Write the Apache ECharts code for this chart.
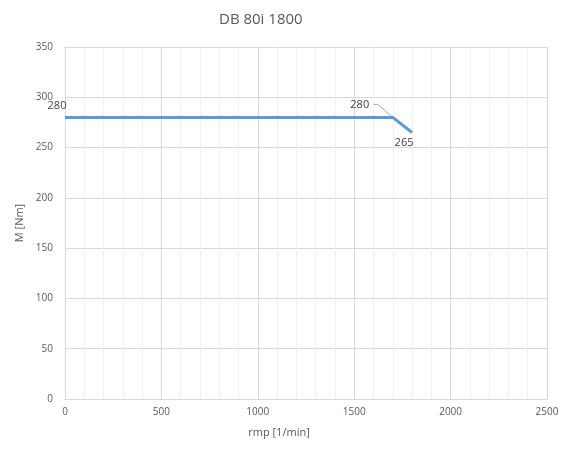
<!DOCTYPE html>
<html><head><meta charset="utf-8">
<script src="https://cdn.jsdelivr.net/npm/echarts@6/dist/echarts.min.js"></script>
<style>html,body{margin:0;padding:0;background:#fff}#c{width:572px;height:455px}</style>
</head><body><div id="c"></div>
<script>
const titleText = "DB 80i 1800";
const xName = "rmp [1/min]";
const yName = "M [Nm]";
const rpm = [0, 1700, 1800];
const torque = [280, 280, 265];

const chart = echarts.init(document.getElementById('c'), null, {renderer: 'canvas'});
const font = "Open Sans, Liberation Sans, sans-serif";
const labelMoves = [[-8, -12], [-33, -13], [-8, 10]];
chart.setOption({
  animation: false,
  title: {text: titleText, left: 214, top: 7,
    textStyle: {fontFamily: font, fontSize: 15, fontWeight: 'normal', color: '#595959'}},
  grid: {left: 65, right: 25, top: 47, bottom: 56},
  xAxis: {
    type: 'value', min: 0, max: 2500, interval: 500,
    name: xName, nameLocation: 'middle', nameGap: 28,
    nameTextStyle: {fontFamily: font, fontSize: 11, color: '#595959', padding: [0, 54, 0, 0]},
    axisLine: {show: true, lineStyle: {color: '#d9d9d9'}},
    axisTick: {show: false},
    axisLabel: {fontFamily: font, fontSize: 10, color: '#595959', margin: 8, formatter: v => String(v)},
    splitLine: {show: true, lineStyle: {color: '#d9d9d9'}},
    minorTick: {show: false, splitNumber: 5},
    minorSplitLine: {show: true, lineStyle: {color: '#efefef'}}
  },
  yAxis: {
    type: 'value', min: 0, max: 350, interval: 50,
    name: yName, nameLocation: 'middle', nameGap: 36, nameRotate: 90,
    nameTextStyle: {fontFamily: font, fontSize: 11, color: '#595959'},
    axisLine: {show: true, lineStyle: {color: '#d9d9d9'}},
    axisTick: {show: false},
    axisLabel: {fontFamily: font, fontSize: 10, color: '#595959', margin: 12, formatter: v => String(v)},
    splitLine: {show: true, lineStyle: {color: '#d9d9d9'}}
  },
  series: [{
    type: 'line',
    data: rpm.map((x, i) => [x, torque[i]]),
    showSymbol: true,
    symbol: 'circle',
    symbolSize: 0,
    itemStyle: {color: 'rgba(0,0,0,0)'},
    lineStyle: {color: '#5b9bd5', width: 3},
    label: {show: true, position: 'inside', fontFamily: font, fontSize: 11, color: '#404040',
      formatter: p => String(p.value[1])},
    labelLayout: function (p) {
      const m = labelMoves[p.dataIndex];
      return {dx: m[0], dy: m[1]};
    }
  }]
});
// leader line for the displaced label of the second point
const pt = chart.convertToPixel({gridIndex: 0}, [rpm[1], torque[1]]);
chart.setOption({
  graphic: [{
    type: 'polyline', silent: true, z: 1,
    shape: {points: [[pt[0], pt[1]], [pt[0] - 15, pt[1] - 13], [pt[0] - 19, pt[1] - 13]]},
    style: {stroke: '#a6a6a6', lineWidth: 1, fill: null}
  }]
});
</script></body></html>
